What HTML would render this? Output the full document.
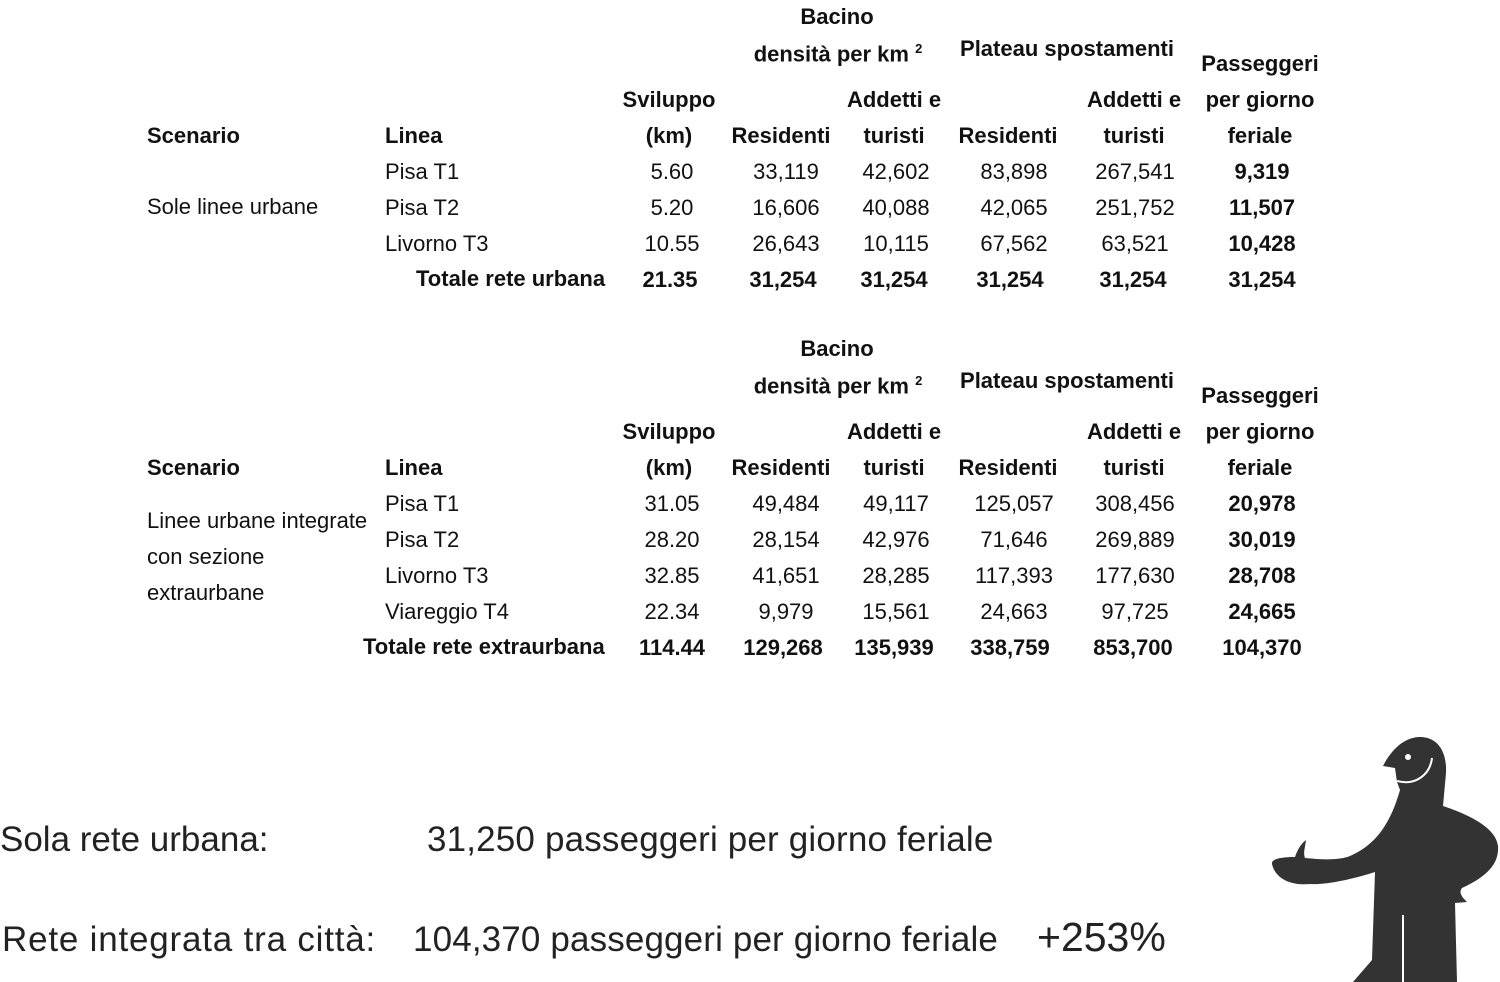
<!DOCTYPE html>
<html><head><meta charset="utf-8">
<style>
body{margin:0;width:1500px;height:982px;background:#fff;position:relative;overflow:hidden;font-family:"Liberation Sans",sans-serif;color:#111;}
.t{position:absolute;font-size:22px;line-height:36px;white-space:nowrap;}
.c{transform:translateX(-50%);}
.b{font-weight:bold;}
.big{position:absolute;font-size:35px;line-height:40px;white-space:nowrap;color:#222;}
</style></head><body>

<!-- TABLE 1 -->
<div class="t b c" style="left:837px;top:-1px">Bacino</div>
<div class="t b c" style="left:838px;top:31px">densità per km <sup style="font-size:13px">2</sup></div>
<div class="t b c" style="left:1067px;top:31px">Plateau spostamenti</div>
<div class="t b c" style="left:1260px;top:46px">Passeggeri</div>
<div class="t b c" style="left:669px;top:82px">Sviluppo</div>
<div class="t b c" style="left:894px;top:82px">Addetti e</div>
<div class="t b c" style="left:1134px;top:82px">Addetti e</div>
<div class="t b c" style="left:1260px;top:82px">per giorno</div>
<div class="t b" style="left:147px;top:118px">Scenario</div>
<div class="t b" style="left:385px;top:118px">Linea</div>
<div class="t b c" style="left:669px;top:118px">(km)</div>
<div class="t b c" style="left:781px;top:118px">Residenti</div>
<div class="t b c" style="left:894px;top:118px">turisti</div>
<div class="t b c" style="left:1008px;top:118px">Residenti</div>
<div class="t b c" style="left:1134px;top:118px">turisti</div>
<div class="t b c" style="left:1260px;top:118px">feriale</div>

<div class="t" style="left:147px;top:189px">Sole linee urbane</div>
<div class="t" style="left:385px;top:154px">Pisa T1</div>
<div class="t" style="left:385px;top:190px">Pisa T2</div>
<div class="t" style="left:385px;top:226px">Livorno T3</div>
<div class="t b" style="left:416px;top:261px">Totale rete urbana</div>

<div class="t c" style="left:672px;top:154px">5.60</div>
<div class="t c" style="left:786px;top:154px">33,119</div>
<div class="t c" style="left:896px;top:154px">42,602</div>
<div class="t c" style="left:1014px;top:154px">83,898</div>
<div class="t c" style="left:1135px;top:154px">267,541</div>
<div class="t b c" style="left:1262px;top:154px">9,319</div>

<div class="t c" style="left:672px;top:190px">5.20</div>
<div class="t c" style="left:786px;top:190px">16,606</div>
<div class="t c" style="left:896px;top:190px">40,088</div>
<div class="t c" style="left:1014px;top:190px">42,065</div>
<div class="t c" style="left:1135px;top:190px">251,752</div>
<div class="t b c" style="left:1262px;top:190px">11,507</div>

<div class="t c" style="left:672px;top:226px">10.55</div>
<div class="t c" style="left:786px;top:226px">26,643</div>
<div class="t c" style="left:896px;top:226px">10,115</div>
<div class="t c" style="left:1014px;top:226px">67,562</div>
<div class="t c" style="left:1135px;top:226px">63,521</div>
<div class="t b c" style="left:1262px;top:226px">10,428</div>

<div class="t b c" style="left:670px;top:262px">21.35</div>
<div class="t b c" style="left:783px;top:262px">31,254</div>
<div class="t b c" style="left:894px;top:262px">31,254</div>
<div class="t b c" style="left:1010px;top:262px">31,254</div>
<div class="t b c" style="left:1133px;top:262px">31,254</div>
<div class="t b c" style="left:1262px;top:262px">31,254</div>

<!-- TABLE 2 -->
<div class="t b c" style="left:837px;top:331px">Bacino</div>
<div class="t b c" style="left:838px;top:363px">densità per km <sup style="font-size:13px">2</sup></div>
<div class="t b c" style="left:1067px;top:363px">Plateau spostamenti</div>
<div class="t b c" style="left:1260px;top:378px">Passeggeri</div>
<div class="t b c" style="left:669px;top:414px">Sviluppo</div>
<div class="t b c" style="left:894px;top:414px">Addetti e</div>
<div class="t b c" style="left:1134px;top:414px">Addetti e</div>
<div class="t b c" style="left:1260px;top:414px">per giorno</div>
<div class="t b" style="left:147px;top:450px">Scenario</div>
<div class="t b" style="left:385px;top:450px">Linea</div>
<div class="t b c" style="left:669px;top:450px">(km)</div>
<div class="t b c" style="left:781px;top:450px">Residenti</div>
<div class="t b c" style="left:894px;top:450px">turisti</div>
<div class="t b c" style="left:1008px;top:450px">Residenti</div>
<div class="t b c" style="left:1134px;top:450px">turisti</div>
<div class="t b c" style="left:1260px;top:450px">feriale</div>

<div class="t" style="left:147px;top:503px">Linee urbane integrate</div>
<div class="t" style="left:147px;top:539px">con sezione</div>
<div class="t" style="left:147px;top:575px">extraurbane</div>
<div class="t" style="left:385px;top:486px">Pisa T1</div>
<div class="t" style="left:385px;top:522px">Pisa T2</div>
<div class="t" style="left:385px;top:558px">Livorno T3</div>
<div class="t" style="left:385px;top:594px">Viareggio T4</div>
<div class="t b" style="left:363px;top:629px">Totale rete extraurbana</div>

<div class="t c" style="left:672px;top:486px">31.05</div>
<div class="t c" style="left:786px;top:486px">49,484</div>
<div class="t c" style="left:896px;top:486px">49,117</div>
<div class="t c" style="left:1014px;top:486px">125,057</div>
<div class="t c" style="left:1135px;top:486px">308,456</div>
<div class="t b c" style="left:1262px;top:486px">20,978</div>

<div class="t c" style="left:672px;top:522px">28.20</div>
<div class="t c" style="left:786px;top:522px">28,154</div>
<div class="t c" style="left:896px;top:522px">42,976</div>
<div class="t c" style="left:1014px;top:522px">71,646</div>
<div class="t c" style="left:1135px;top:522px">269,889</div>
<div class="t b c" style="left:1262px;top:522px">30,019</div>

<div class="t c" style="left:672px;top:558px">32.85</div>
<div class="t c" style="left:786px;top:558px">41,651</div>
<div class="t c" style="left:896px;top:558px">28,285</div>
<div class="t c" style="left:1014px;top:558px">117,393</div>
<div class="t c" style="left:1135px;top:558px">177,630</div>
<div class="t b c" style="left:1262px;top:558px">28,708</div>

<div class="t c" style="left:672px;top:594px">22.34</div>
<div class="t c" style="left:786px;top:594px">9,979</div>
<div class="t c" style="left:896px;top:594px">15,561</div>
<div class="t c" style="left:1014px;top:594px">24,663</div>
<div class="t c" style="left:1135px;top:594px">97,725</div>
<div class="t b c" style="left:1262px;top:594px">24,665</div>

<div class="t b c" style="left:672px;top:630px">114.44</div>
<div class="t b c" style="left:783px;top:630px">129,268</div>
<div class="t b c" style="left:894px;top:630px">135,939</div>
<div class="t b c" style="left:1010px;top:630px">338,759</div>
<div class="t b c" style="left:1133px;top:630px">853,700</div>
<div class="t b c" style="left:1262px;top:630px">104,370</div>

<!-- Bottom -->
<div class="big" style="left:0;top:820px">Sola rete urbana:</div>
<div class="big" style="left:427px;top:820px;letter-spacing:0.17px">31,250 passeggeri per giorno feriale</div>
<div class="big" style="left:2px;top:920px;letter-spacing:0.8px">Rete integrata tra città:</div>
<div class="big" style="left:413px;top:920px;letter-spacing:0.14px">104,370 passeggeri per giorno feriale</div>
<div class="big" style="left:1037px;top:917px;font-size:41px">+253%</div>

<svg style="position:absolute;left:0;top:0" width="1500" height="982">
<path fill="#333" d="M1420,737 C1438,737 1447,752 1446,773 L1443,806 C1470,815 1496,828 1498,846 C1499,862 1490,875 1462,888 C1458,893 1463,898 1467,902 L1455,903 L1457,982 L1353,982 L1372,960 L1375,872 C1350,880 1325,885 1310,884 C1290,886 1275,878 1272,864 C1271,858 1285,857 1295,857 C1298,848 1302,843 1306,840 C1305,848 1303,853 1305,858 C1325,860 1340,860 1350,856 C1375,845 1390,825 1400,790 L1397,782 L1395,768 L1383,766 C1390,752 1403,737 1420,737 Z"/>
<circle cx="1408" cy="757" r="3" fill="#fff"/>
<path d="M1397,781 C1415,786 1430,775 1432,758" stroke="#fff" stroke-width="2" fill="none"/>
<line x1="1403" y1="915" x2="1403" y2="982" stroke="#fff" stroke-width="2"/>
</svg>
</body></html>
